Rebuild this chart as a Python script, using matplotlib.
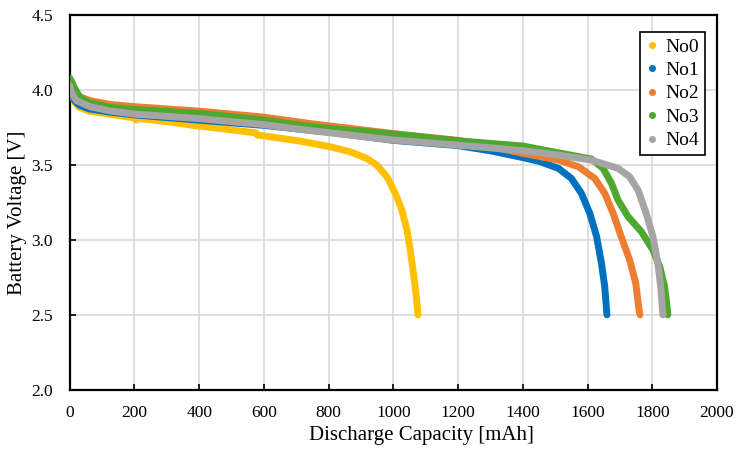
import matplotlib
matplotlib.use("Agg")
import matplotlib.pyplot as plt
from matplotlib.lines import Line2D

# -----------------------------
# Data
# -----------------------------
labels = ["No0", "No1", "No2", "No3", "No4"]
colors = ["#FFC000", "#0070C0", "#ED7D31", "#4EA72E", "#A5A5A5"]

no0_cap = [0, 5, 15, 30, 60, 120, 200, 205, 212, 300, 382, 500, 575, 580, 600, 712,
           805, 866, 918, 949, 980, 1006, 1026, 1042, 1052, 1062, 1071, 1076]
no0_v = [4.03, 3.98, 3.92, 3.885, 3.86, 3.84, 3.815, 3.80, 3.812, 3.79, 3.765, 3.735,
         3.715, 3.70, 3.695, 3.66, 3.622, 3.589, 3.544, 3.50, 3.422, 3.311, 3.20, 3.067,
         2.933, 2.778, 2.622, 2.50]

no1_cap = [0, 5, 15, 30, 60, 120, 200, 400, 600, 800, 1000, 1200, 1300, 1400, 1450,
           1510, 1550, 1581, 1607, 1628, 1643, 1653, 1660]
no1_v = [4.03, 3.98, 3.93, 3.90, 3.875, 3.855, 3.835, 3.80, 3.765, 3.72, 3.665, 3.63,
         3.595, 3.55, 3.525, 3.478, 3.411, 3.311, 3.178, 3.022, 2.844, 2.689, 2.50]

no2_cap = [0, 5, 15, 32, 63, 124, 200, 400, 600, 750, 1000, 1200, 1300, 1400, 1510,
           1572, 1622, 1653, 1679, 1704, 1730, 1749, 1758, 1762]
no2_v = [4.06, 4.03, 3.98, 3.955, 3.93, 3.905, 3.89, 3.86, 3.82, 3.775, 3.71, 3.665,
         3.625, 3.578, 3.533, 3.489, 3.411, 3.311, 3.178, 3.022, 2.867, 2.711, 2.55, 2.50]

no3_cap = [0, 6, 16, 32, 63, 124, 200, 400, 600, 750, 1000, 1200, 1400, 1510, 1612,
           1648, 1674, 1694, 1725, 1766, 1802, 1823, 1838, 1846, 1848]
no3_v = [4.08, 4.055, 4.01, 3.95, 3.915, 3.885, 3.871, 3.845, 3.80, 3.755, 3.707, 3.662,
         3.627, 3.582, 3.54, 3.478, 3.378, 3.267, 3.156, 3.056, 2.933, 2.822, 2.689,
         2.55, 2.50]

no4_cap = [0, 6, 21, 63, 124, 200, 400, 600, 712, 1000, 1200, 1400, 1510, 1612, 1694,
           1730, 1756, 1781, 1802, 1817, 1826, 1831, 1833]
no4_v = [4.03, 3.98, 3.93, 3.889, 3.862, 3.84, 3.81, 3.77, 3.738, 3.667, 3.633, 3.596,
         3.567, 3.533, 3.478, 3.422, 3.333, 3.178, 3.022, 2.844, 2.689, 2.55, 2.50]

x_ticks = [0, 200, 400, 600, 800, 1000, 1200, 1400, 1600, 1800, 2000]
y_ticks = [2.0, 2.5, 3.0, 3.5, 4.0, 4.5]

series = [(no0_cap, no0_v), (no1_cap, no1_v), (no2_cap, no2_v),
          (no3_cap, no3_v), (no4_cap, no4_v)]

# -----------------------------
# Plot
# -----------------------------
plt.rcParams["font.family"] = ["Liberation Serif", "DejaVu Serif"]

fig = plt.figure(figsize=(7.5, 4.5), dpi=100)
ax = fig.add_axes([0.093, 0.134, 0.863, 0.832])

for (cap, v), c in zip(series, colors):
    ax.plot(cap, v, color=c, linewidth=5, solid_capstyle="round",
            solid_joinstyle="round", zorder=3)

ax.set_xlim(0, 2000)
ax.set_ylim(2.0, 4.5)
ax.set_xticks(x_ticks)
ax.set_yticks(y_ticks)
ax.set_yticklabels([f"{t:.1f}" for t in y_ticks])

ax.grid(True, color="#d9d9d9", linewidth=1.2, zorder=0)
ax.set_axisbelow(True)
for s in ax.spines.values():
    s.set_linewidth(1.6)
    s.set_color("black")

ax.tick_params(axis="both", direction="in", length=4, width=1.2, labelsize=12.5)
ax.tick_params(axis="x", pad=11)
ax.tick_params(axis="y", pad=12)

# axis titles sit off-centre in the original, like hand-placed Excel titles
ax.set_xlabel("Discharge Capacity [mAh]", fontsize=15, labelpad=2)
ax.xaxis.set_label_coords(0.543, -0.097)
ax.set_ylabel("Battery Voltage [V]", fontsize=15)
ax.yaxis.set_label_coords(-0.066, 0.472)

handles = [Line2D([], [], linestyle="none", marker="o", markersize=4,
                  color=c) for c in colors]
leg = ax.legend(handles, labels, loc="upper right", bbox_to_anchor=(0.982, 0.955),
                borderaxespad=0, fontsize=14, fancybox=False, framealpha=1,
                edgecolor="black", handlelength=0.6, handletextpad=0.4,
                labelspacing=0.3, borderpad=0.3)
leg.get_frame().set_linewidth(1.2)

fig.savefig("out.png", dpi=100)
